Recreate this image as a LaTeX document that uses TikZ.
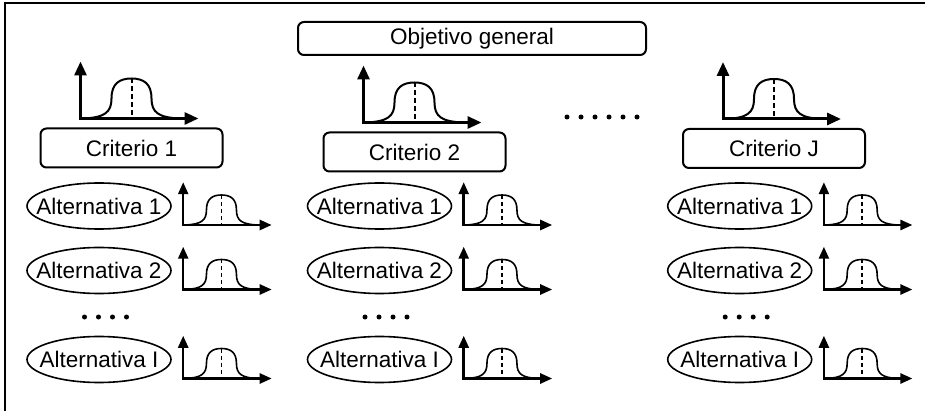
\documentclass[tikz,border=0pt]{standalone}
\usepackage{fontspec}
\setmainfont{Liberation Sans}
\usetikzlibrary{arrows.meta}

\tikzset{
  lbl/.style={font=\fontsize{22.5}{26}\selectfont},
  goalbox/.style={draw, line width=2pt, rounded corners=6pt, minimum width=348pt,
    minimum height=33pt, inner sep=0pt, lbl},
  critbox/.style={draw, line width=2pt, rounded corners=6pt, minimum width=182pt,
    minimum height=39pt, inner sep=0pt, lbl},
  altnode/.style={minimum width=144pt, minimum height=46pt, inner sep=0pt, lbl},
  altring/.style={line width=1.6pt},
  axis/.style={line width=3pt, line join=miter,
    {Triangle[length=14pt,width=12pt]}-{Triangle[length=14pt,width=12pt]}},
  bellcurve/.style={line width=2pt},
  median/.style={line width=2pt, dash pattern=on 5pt off 3pt},
  smallchart/.style={scale=0.75,
    axis/.style={line width=2.5pt, line join=miter,
      {Triangle[length=12pt,width=10pt]}-{Triangle[length=12pt,width=10pt]}},
    bellcurve/.style={line width=1.6pt},
    median/.style={line width=1.6pt, dash pattern=on 4pt off 3pt}},
  dot/.style={circle, fill, inner sep=0pt, minimum size=5pt},
  frame/.style={line width=2pt},
  % axes with a bell-shaped distribution and its dashed median
  bell/.pic={
    \draw[axis] (0,-57) -- (0,0) -- (118,0);
    \draw[bellcurve] (3,0) .. controls (24,-1) and (31,-6) .. (31,-20)
      .. controls (31,-35) and (39,-40) .. (51,-40)
      .. controls (63,-40) and (71,-35) .. (71,-20)
      .. controls (71,-6) and (78,-1) .. (99,0);
    \draw[median] (51,-40) -- (51,0);
  },
}

\begin{document}
\begin{tikzpicture}[x=1pt,y=-1pt]
\useasboundingbox (0,0) rectangle (925,411);

% outer frame (top and left edges)
\coordinate (fbl) at (5,411);
\coordinate (ftl) at (5,3);
\coordinate (ftr) at (925,3);
\draw[frame] (fbl) -- (ftl) -- (ftr);

% goal
\node[goalbox] (goal) at (472,38.5) {Objetivo general};

% criteria with their distributions
\node[critbox] (c1) at (131.5,148) {Criterio 1};
\node[critbox] (c2) at (414.5,152) {Criterio 2};
\node[critbox] (cJ) at (774,148.5) {Criterio J};
\foreach \c in {c1,c2,cJ}
  \pic at ([shift={(-51,-9)}]\c.north) {bell};

% ellipsis between criteria
\foreach \i [count=\k] in {567,581,595,609,623,637}
  \node[dot] (cd\k) at (\i,117) {};

% alternatives per criterion
\foreach \col/\cx in {1/99, 2/379.5, 3/739.7} {
  \node[altnode] (a\col one) at (\cx,206) {Alternativa 1};
  \node[altnode] (a\col two) at (\cx,270.5) {Alternativa 2};
  \node[altnode] (a\col last) at (\cx,359.5) {Alternativa I};
  \foreach \r in {one,two,last} {
    \draw[altring] (a\col\r.center) ellipse [x radius=72, y radius=23];
    \pic[smallchart] at ([shift={(12,19)}]a\col\r.east) {bell};
  }
  \foreach \j in {0,1,2,3}
    \node[dot] (ad\col\j) at (\cx+6.5-21+14*\j,317) {};
}
\end{tikzpicture}
\end{document}
